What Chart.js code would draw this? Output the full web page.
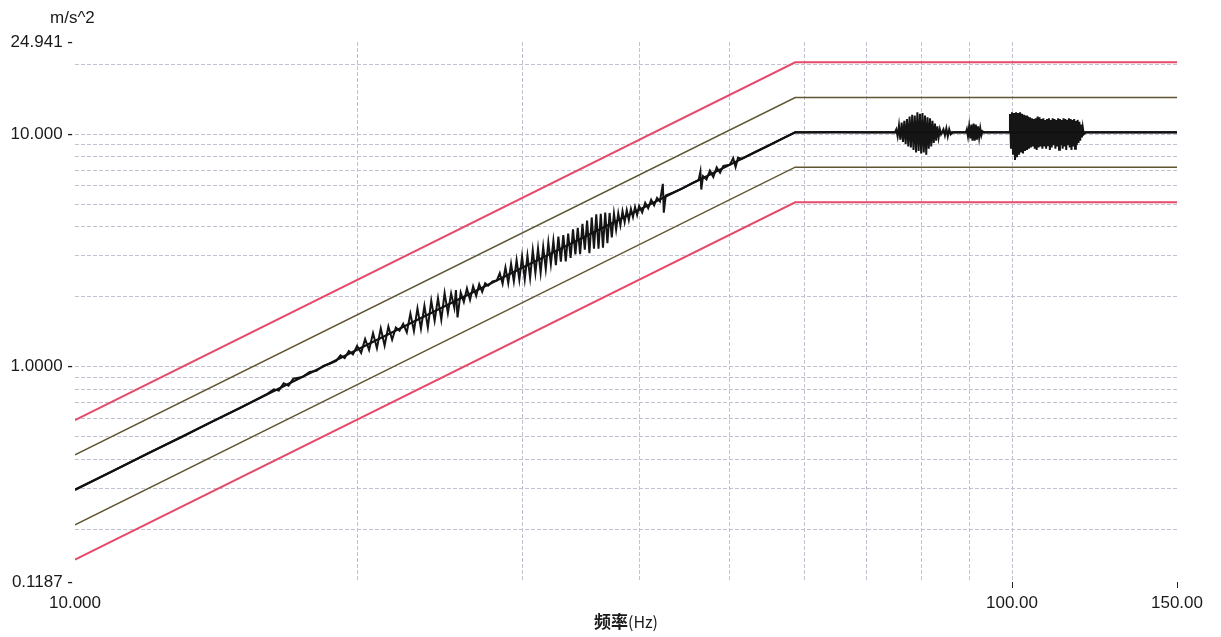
<!DOCTYPE html>
<html>
<head>
<meta charset="utf-8">
<script src="https://cdn.jsdelivr.net/npm/chart.js@4.4.0/dist/chart.umd.min.js"></script>
<style>
body { margin: 0; background: #fff; }
#wrap { width: 1221px; height: 637px; }
</style>
</head>
<body>
<div id="wrap"><canvas id="chart"></canvas></div>
<script>
// profile breakpoints (Hz) and levels (m/s^2)
const profileFreqs = [10, 58.7, 150];
const refLevel = [0.296, 10.2, 10.2];
const upper3dB = [0.418, 14.4, 14.4];
const lower3dB = [0.209, 7.22, 7.22];
const upper6dB = [0.59, 20.4, 20.4];
const lower6dB = [0.148, 5.1, 5.1];

// measured response [Hz, m/s^2]
const tracePoints = [
  [10, 0.296], [11, 0.358], [12, 0.427], [13, 0.499], [14, 0.581], [15, 0.664], [16, 0.760],
  [16.3, 0.80], [16.5, 0.79], [16.7, 0.85], [16.9, 0.83], [17.1, 0.89], [17.5, 0.905],
  [17.8, 0.95], [18.1, 0.96], [18.4, 1.01], [18.7, 1.03], [19.0, 1.06], [19.2, 1.12],
  [19.4, 1.09], [19.6, 1.17], [19.8, 1.13],
  [20.0, 1.231], [20.2, 1.148], [20.4, 1.318], [20.6, 1.181], [20.8, 1.396], [21.0, 1.201],
  [21.2, 1.463], [21.4, 1.234], [21.6, 1.491], [21.8, 1.308], [22.0, 1.476], [22.2, 1.430],
  [22.4, 1.530], [22.6, 1.406], [22.8, 1.693], [23.0, 1.425], [23.2, 1.784], [23.4, 1.459],
  [23.6, 1.830], [23.8, 1.476], [24.0, 1.927], [24.2, 1.577], [24.4, 1.973], [24.6, 1.594],
  [24.8, 2.076], [25.0, 1.702], [25.2, 2.068], [25.4, 1.795], [25.5, 2.137], [25.6, 1.630],
  [25.8, 2.088], [26.0, 1.901], [26.2, 2.174], [26.4, 1.939], [26.6, 2.220], [26.8, 2.020],
  [27.0, 2.266], [27.2, 2.102], [27.4, 2.289], [27.6, 2.232], [27.9, 2.327], [28.2, 2.354],
  [28.4, 2.530], [28.6, 2.276], [28.8, 2.676], [29.0, 2.290], [29.2, 2.776], [29.4, 2.329],
  [29.6, 2.878], [29.8, 2.366], [30.0, 2.984], [30.2, 2.376], [30.4, 3.009], [30.6, 2.412],
  [30.8, 3.173], [31.0, 2.532], [31.2, 3.227], [31.4, 2.539], [31.6, 3.281], [31.8, 2.634],
  [32.0, 3.425], [32.2, 2.762], [32.4, 3.480], [32.6, 2.737], [32.8, 3.630], [33.0, 2.836],
  [33.2, 3.687], [33.4, 2.840], [33.6, 3.743], [33.8, 2.942], [34.0, 3.901], [34.2, 3.047],
  [34.4, 3.958], [34.6, 3.048], [34.8, 4.123], [35.0, 3.191], [35.2, 4.255], [35.4, 3.078],
  [35.6, 4.389], [35.8, 3.225], [36.0, 4.526], [36.2, 3.220], [36.4, 4.550], [36.6, 3.251],
  [36.8, 4.610], [37.0, 3.404], [37.2, 4.588], [37.4, 3.602], [37.6, 4.562], [37.8, 3.891],
  [38.0, 4.573], [38.2, 4.060], [38.4, 4.671], [38.6, 4.190], [38.8, 4.723], [39.0, 4.277],
  [39.2, 4.776], [39.4, 4.411], [39.6, 4.874], [39.8, 4.501], [40.0, 4.925], [40.3, 4.615],
  [40.6, 5.074], [40.9, 4.803], [41.2, 5.225], [41.5, 4.945], [41.8, 5.327], [42.1, 5.141],
  [42.4, 6.119], [42.5, 4.598], [42.7, 5.451], [43.5, 5.62], [44.5, 5.85], [45.5, 6.15],
  [46.3, 6.36], [46.5, 6.912], [46.6, 5.785], [46.8, 6.613], [47.2, 6.396], [47.6, 6.975],
  [48.0, 6.547], [48.4, 7.211], [48.8, 6.838], [49.2, 7.308], [50.0, 7.40], [50.4, 7.895],
  [50.7, 7.228], [51.0, 7.930], [51.5, 7.85], [53.0, 8.33], [55.0, 8.95], [57.0, 9.62],
  [58.7, 10.2], [60, 10.2], [65, 10.22], [70, 10.2], [75, 10.2],
  // burst 75-84 Hz
  [75.25, 10.51], [75.5, 9.79], [75.75, 10.91], [76.0, 9.49], [76.25, 11.22], [76.5, 9.28],
  [76.75, 11.42], [77.0, 9.08], [77.25, 11.63], [77.5, 8.87], [77.75, 11.93], [78.0, 8.77],
  [78.25, 12.14], [78.5, 8.57], [78.75, 12.04], [79.0, 8.36], [79.25, 12.44], [79.5, 8.47],
  [79.75, 12.24], [80.0, 8.26], [80.25, 12.34], [80.5, 8.36], [80.75, 12.04], [81.0, 8.16],
  [81.25, 11.83], [81.5, 8.67], [81.75, 11.73], [82.0, 8.87], [82.25, 11.42], [82.5, 9.18],
  [82.75, 11.12], [83.0, 9.38], [83.25, 10.81], [83.5, 9.69], [83.75, 10.51], [84.0, 10.0],
  [84.5, 10.51], [84.8, 9.89], [85.1, 10.61], [85.4, 9.79], [85.7, 10.51], [86.0, 9.99],
  [86.5, 10.2], [89.3, 10.2],
  // bump 89-93 Hz
  [89.5, 10.51], [89.75, 9.79], [90.0, 10.81], [90.25, 9.59], [90.5, 11.02], [90.75, 9.38],
  [91.0, 11.12], [91.25, 9.38], [91.5, 11.02], [91.75, 9.49], [92.0, 10.81], [92.25, 9.69],
  [92.5, 10.61], [92.75, 9.89], [93.0, 10.3], [93.3, 10.2], [99.3, 10.2],
  // burst 99-120 Hz
  [99.5, 12.24], [99.75, 8.67], [100.0, 12.44], [100.25, 8.16], [100.5, 12.34], [100.75, 7.75],
  [101.0, 12.44], [101.25, 7.96], [101.5, 12.34], [101.75, 8.16], [102.0, 12.44], [102.25, 8.36],
  [102.5, 12.24], [102.75, 8.26], [103.0, 12.14], [103.25, 8.47], [103.5, 12.04], [103.75, 8.57],
  [104.0, 11.93], [104.25, 8.67], [104.5, 11.83], [104.75, 8.77], [105.0, 11.73], [105.25, 8.87],
  [105.5, 11.63], [105.75, 8.67], [106.0, 11.73], [106.25, 8.57], [106.5, 11.93], [106.75, 8.77],
  [107.0, 11.83], [107.25, 8.87], [107.5, 11.63], [107.75, 8.67], [108.0, 11.73], [108.25, 8.87],
  [108.5, 11.53], [108.75, 8.67], [109.0, 11.63], [109.25, 8.98], [109.5, 11.73], [109.75, 8.57],
  [110.0, 11.53], [110.25, 8.77], [110.5, 11.73], [110.75, 8.98], [111.0, 11.63], [111.25, 8.67],
  [111.5, 11.53], [111.75, 8.87], [112.0, 11.73], [112.25, 8.57], [112.5, 11.63], [112.75, 8.98],
  [113.0, 11.53], [113.25, 8.67], [113.5, 11.73], [113.75, 8.87], [114.0, 11.63], [114.25, 8.57],
  [114.5, 11.53], [114.75, 8.98], [115.0, 11.73], [115.25, 8.77], [115.5, 11.63], [115.75, 8.57],
  [116.0, 11.53], [116.25, 8.87], [116.5, 11.63], [116.75, 8.67], [117.0, 11.42], [117.25, 8.98],
  [117.5, 11.53], [117.75, 9.18], [118.0, 11.32], [118.25, 9.38], [118.5, 11.02], [118.75, 9.69],
  [119.0, 10.71], [119.3, 10.0], [119.9, 10.2],
  [130, 10.2], [150, 10.2]
];

const xTicks = [10, 20, 30, 40, 50, 60, 70, 80, 90, 100, 150];
const xTickLabels = { 10: '10.000', 100: '100.00', 150: '150.00' };
const yTicks = [0.1187, 0.2, 0.3, 0.4, 0.5, 0.6, 0.7, 0.8, 0.9, 1, 2, 3, 4, 5, 6, 7, 8, 9, 10, 20, 24.941];
const yTickLabels = { 0.1187: '0.1187 -', 1: '1.0000 -', 10: '10.000 -', 24.941: '24.941 -' };

const RED = '#e64a6a';
const OLIVE = '#5e5632';
const GRID = '#c2c2d2';

function profile(levels) {
  return profileFreqs.map((f, i) => ({ x: f, y: levels[i] }));
}

function lineSet(levels, color, width) {
  return {
    data: profile(levels),
    borderColor: color,
    borderWidth: width,
    pointRadius: 0,
    tension: 0,
    fill: false
  };
}

const axisText = {
  id: 'axisText',
  afterDraw(chart) {
    const { ctx, chartArea } = chart;
    const cx = (chartArea.left + chartArea.right) / 2;
    ctx.save();
    ctx.fillStyle = '#1a1a1a';
    ctx.font = '17px "Liberation Sans", Arial, sans-serif';
    ctx.textAlign = 'left';
    ctx.textBaseline = 'middle';
    ctx.fillText('m/s^2', 50, 18);
    // axis title: bold CJK part, plain unit part
    ctx.font = 'bold 17px "Noto Sans CJK SC", sans-serif';
    const w1 = ctx.measureText('频率').width;
    ctx.font = '16px "Noto Sans CJK SC", sans-serif';
    const w2 = ctx.measureText('(Hz)').width;
    const x0 = cx - (w1 + w2) / 2;
    ctx.font = 'bold 17px "Noto Sans CJK SC", sans-serif';
    ctx.fillText('频率', x0, 622);
    ctx.font = '16px "Noto Sans CJK SC", sans-serif';
    ctx.fillText('(Hz)', x0 + w1, 622);
    ctx.restore();
  }
};

const ctx = document.getElementById('chart').getContext('2d');
new Chart(ctx, {
  type: 'line',
  data: {
    datasets: [
      lineSet(upper6dB, RED, 2),
      lineSet(lower6dB, RED, 2),
      lineSet(upper3dB, OLIVE, 1.5),
      lineSet(lower3dB, OLIVE, 1.5),
      lineSet(refLevel, '#111', 2.2),
      {
        data: tracePoints.map(p => ({ x: p[0], y: p[1] })),
        borderColor: '#151515',
        borderWidth: 2,
        pointRadius: 0,
        tension: 0,
        fill: false
      }
    ]
  },
  options: {
    responsive: true,
    maintainAspectRatio: false,
    animation: false,
    layout: { padding: { left: 0, right: 44, top: 42, bottom: 0 } },
    plugins: { legend: { display: false }, tooltip: { enabled: false } },
    scales: {
      x: {
        type: 'logarithmic',
        min: 10,
        max: 150,
        afterBuildTicks: (scale) => { scale.ticks = xTicks.map(v => ({ value: v })); },
        afterFit: (scale) => { scale.height = 55; },
        border: { display: false, dash: [4, 2] },
        grid: {
          color: (c) => (c.tick && (c.tick.value === 10 || c.tick.value === 150)) ? 'rgba(0,0,0,0)' : GRID,
          borderDash: [4, 2],
          lineWidth: 1,
          drawTicks: true,
          tickLength: 6,
          tickColor: (c) => (c.tick && c.tick.value >= 100) ? '#222' : 'rgba(0,0,0,0)',
          tickBorderDash: []
        },
        ticks: {
          autoSkip: false,
          maxRotation: 0,
          padding: 5,
          color: '#1a1a1a',
          font: { family: '"Liberation Sans", Arial, sans-serif', size: 17 },
          callback: (v) => xTickLabels[v] || ''
        }
      },
      y: {
        type: 'logarithmic',
        min: 0.1187,
        max: 24.941,
        afterBuildTicks: (scale) => { scale.ticks = yTicks.map(v => ({ value: v })); },
        afterFit: (scale) => { scale.width = 75; },
        border: { display: false, dash: [4, 2] },
        grid: {
          color: (c) => (c.tick && (c.tick.value === 0.1187 || c.tick.value === 24.941)) ? 'rgba(0,0,0,0)' : GRID,
          borderDash: [4, 2],
          lineWidth: 1,
          drawTicks: false
        },
        ticks: {
          autoSkip: false,
          padding: 2,
          color: '#1a1a1a',
          font: { family: '"Liberation Sans", Arial, sans-serif', size: 17 },
          callback: (v) => yTickLabels[v] || ''
        }
      }
    }
  },
  plugins: [axisText]
});
</script>
</body>
</html>
